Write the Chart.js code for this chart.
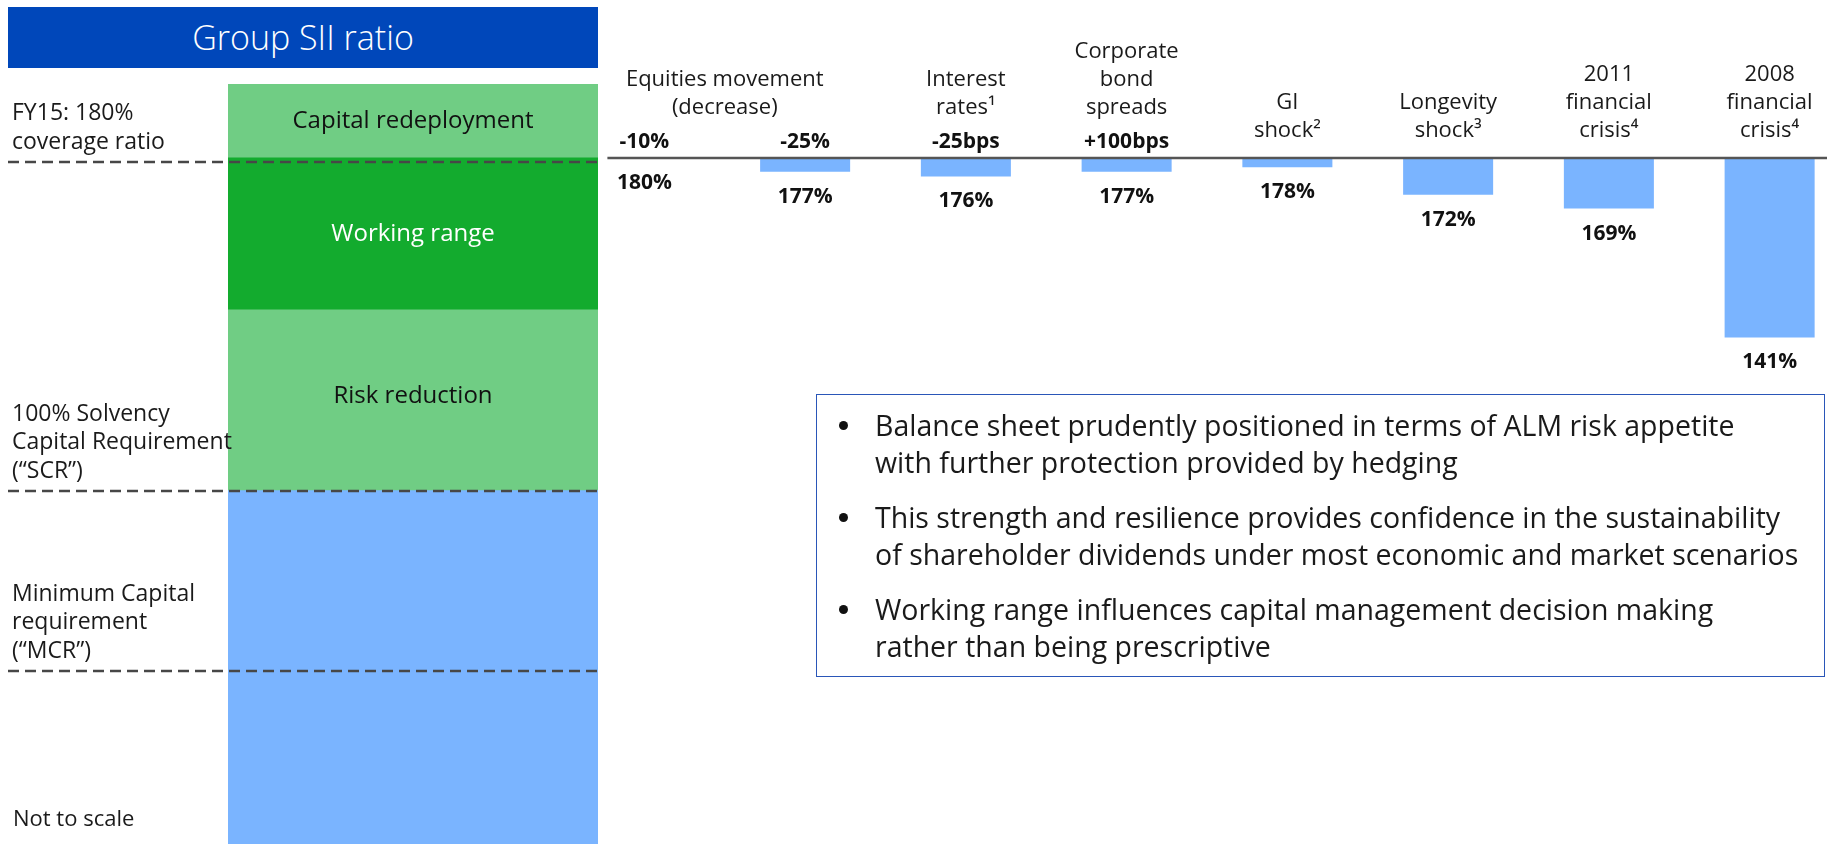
<!DOCTYPE html>
<html>
<head>
<meta charset="utf-8">
<script src="https://cdn.jsdelivr.net/npm/chart.js@4.4.1/dist/chart.umd.min.js"></script>
<style>
  html, body { margin: 0; padding: 0; background: #fff; overflow: hidden; }
  body { width: 1827px; height: 844px; position: relative; font-family: "Open Sans", sans-serif; color: #1a1a1a; }
  #title { position: absolute; left: 8px; top: 7px; width: 590px; height: 61px; background: #0047ba; color: #fff;
           font-size: 34px; font-weight: 300; line-height: 61px; text-align: center; }
  #ladder { position: absolute; left: 0; top: 0; }
  #stress { position: absolute; left: 530px; top: 0; }
  #note { position: absolute; left: 13px; top: 802px; font-size: 22px; }
  #summary { position: absolute; left: 816px; top: 394px; width: 1009px; height: 283px; border: 1.5px solid #2a56b8;
             box-sizing: border-box; padding: 12px 0 0 58px; font-size: 28.5px; line-height: 37px; white-space: nowrap; }
  #summary ul { list-style: none; margin: 0; padding: 0; }
  #summary li { position: relative; margin-bottom: 18px; }
  #summary li::before { content: ""; position: absolute; left: -36px; top: 14px; width: 9px; height: 9px;
                        border-radius: 50%; background: #111; }
</style>
</head>
<body>
<div id="title">Group SII ratio</div>
<canvas id="ladder" width="610" height="844"></canvas>
<canvas id="stress" width="1350" height="420"></canvas>
<div id="note">Not to scale</div>
<div id="summary">
  <ul>
    <li>Balance sheet prudently positioned in terms of ALM risk appetite<br>with further protection provided by hedging</li>
    <li>This strength and resilience provides confidence in the sustainability<br>of shareholder dividends under most economic and market scenarios</li>
    <li>Working range influences capital management decision making<br>rather than being prescriptive</li>
  </ul>
</div>
<script>
// Left panel: coverage zones (not to scale), bottom to top
const zoneNames = ['', 'Risk reduction', 'Working range', 'Capital redeployment'];
const zoneFrom = [14, 100, 144, 181];
const zoneTo = [100, 144, 181, 199];
const markerValues = [180, 100, 56];
const markerLabels = [
  ['FY15: 180%', 'coverage ratio'],
  ['100% Solvency', 'Capital Requirement', '(“SCR”)'],
  ['Minimum Capital', 'requirement', '(“MCR”)']
];

// Right panel: stress scenarios
const scenarios = ['Equities -10%', 'Equities -25%', 'Interest rates -25bps', 'Corporate bond spreads +100bps',
                   'GI shock', 'Longevity shock', '2011 financial crisis', '2008 financial crisis'];
const shocks = ['-10%', '-25%', '-25bps', '+100bps', '', '', '', ''];
const ratios = [180, 177, 176, 177, 178, 172, 169, 141];
const baseRatio = 180;
const headerLines = [
  ['Equities movement', '(decrease)'], ['Interest', 'rates¹'], ['Corporate', 'bond', 'spreads'],
  ['GI', 'shock²'], ['Longevity', 'shock³'], ['2011', 'financial', 'crisis⁴'], ['2008', 'financial', 'crisis⁴']
];
const headerSpans = [[0, 1], [2, 2], [3, 3], [4, 4], [5, 5], [6, 6], [7, 7]];

const zoneColours = ['#7ab4ff', '#70cd84', '#13ab2e', '#70cd84'];
const zoneTextColours = ['#111', '#111', '#fff', '#111'];
const barBlue = '#7ab4ff';
const font = '"Open Sans", sans-serif';

const ladderPlugin = {
  id: 'ladderLabels',
  afterDatasetsDraw(chart) {
    const ctx = chart.ctx;
    const y = chart.scales.y;
    const area = chart.chartArea;
    ctx.save();
    ctx.textAlign = 'center';
    ctx.textBaseline = 'middle';
    ctx.font = '24px ' + font;
    chart.data.datasets.forEach((ds, i) => {
      if (!ds.label) return;
      const bar = chart.getDatasetMeta(i).data[0];
      const top = Math.min(bar.y, bar.base), bottom = Math.max(bar.y, bar.base);
      ctx.fillStyle = zoneTextColours[i];
      const cy = i === 1 ? top + 86 : (top + bottom) / 2;
      ctx.fillText(ds.label, bar.x, cy);
    });
    // dashed threshold lines with their captions
    ctx.strokeStyle = '#474747';
    ctx.lineWidth = 2.5;
    ctx.setLineDash([11, 6]);
    ctx.font = '23px ' + font;
    ctx.fillStyle = '#1a1a1a';
    ctx.textAlign = 'left';
    markerValues.forEach((v, i) => {
      const py = Math.round(y.getPixelForValue(v));
      ctx.beginPath();
      ctx.moveTo(8, py);
      ctx.lineTo(area.right, py);
      ctx.stroke();
      const lines = markerLabels[i];
      lines.forEach((t, j) => {
        ctx.fillText(t, 12, py - 20 - (lines.length - 1 - j) * 28.5);
      });
    });
    ctx.restore();
  }
};

new Chart(document.getElementById('ladder'), {
  type: 'bar',
  data: {
    labels: ['Group SII ratio'],
    datasets: zoneNames.map((name, i) => ({
      label: name,
      data: [[zoneFrom[i], zoneTo[i]]],
      backgroundColor: zoneColours[i],
      borderWidth: 0,
      grouped: false,
      barPercentage: 1,
      categoryPercentage: 1
    }))
  },
  options: {
    responsive: false,
    animation: false,
    layout: { padding: { left: 228, right: 12, top: 84, bottom: 0 } },
    plugins: { legend: { display: false }, tooltip: { enabled: false } },
    scales: {
      x: { display: false },
      y: { display: false, min: zoneFrom[0], max: zoneTo[zoneTo.length - 1] }
    }
  },
  plugins: [ladderPlugin]
});

const stressPlugin = {
  id: 'stressLabels',
  afterDatasetsDraw(chart) {
    const ctx = chart.ctx;
    const x = chart.scales.x;
    const y = chart.scales.y;
    const axisY = y.getPixelForValue(baseRatio);
    const step = x.getPixelForValue(1) - x.getPixelForValue(0);
    ctx.save();
    // baseline
    ctx.strokeStyle = '#555';
    ctx.lineWidth = 2.5;
    ctx.beginPath();
    ctx.moveTo(x.getPixelForValue(0) - step * 0.23, axisY);
    ctx.lineTo(chart.width, axisY);
    ctx.stroke();

    ctx.textAlign = 'center';
    ctx.textBaseline = 'middle';
    ctx.fillStyle = '#111';
    // resulting ratios under each bar
    ctx.font = 'bold 21px ' + font;
    const meta = chart.getDatasetMeta(0);
    meta.data.forEach((bar, i) => {
      const bottom = Math.max(bar.y, bar.base);
      ctx.fillText(ratios[i] + '%', bar.x, bottom + 25);
      if (shocks[i]) ctx.fillText(shocks[i], bar.x, axisY - 16);
    });
    // scenario headers
    ctx.font = '22px ' + font;
    ctx.fillStyle = '#1a1a1a';
    headerLines.forEach((lines, h) => {
      const [a, b] = headerSpans[h];
      const cx = (x.getPixelForValue(a) + x.getPixelForValue(b)) / 2;
      const lastY = axisY - (shocks[a] ? 50 : 27);
      lines.forEach((t, j) => {
        ctx.fillText(t, cx, lastY - (lines.length - 1 - j) * 28);
      });
    });
    ctx.restore();
  }
};

new Chart(document.getElementById('stress'), {
  type: 'bar',
  data: {
    labels: scenarios,
    datasets: [{
      data: ratios.map(v => [v, baseRatio]),
      backgroundColor: barBlue,
      borderWidth: 0,
      barPercentage: 0.56,
      categoryPercentage: 1
    }]
  },
  options: {
    responsive: false,
    animation: false,
    layout: { padding: { left: 34, right: 30, top: 158, bottom: 32 } },
    plugins: { legend: { display: false }, tooltip: { enabled: false } },
    scales: {
      x: { display: false },
      y: { display: false, min: 130, max: baseRatio }
    }
  },
  plugins: [stressPlugin]
});
</script>
</body>
</html>
